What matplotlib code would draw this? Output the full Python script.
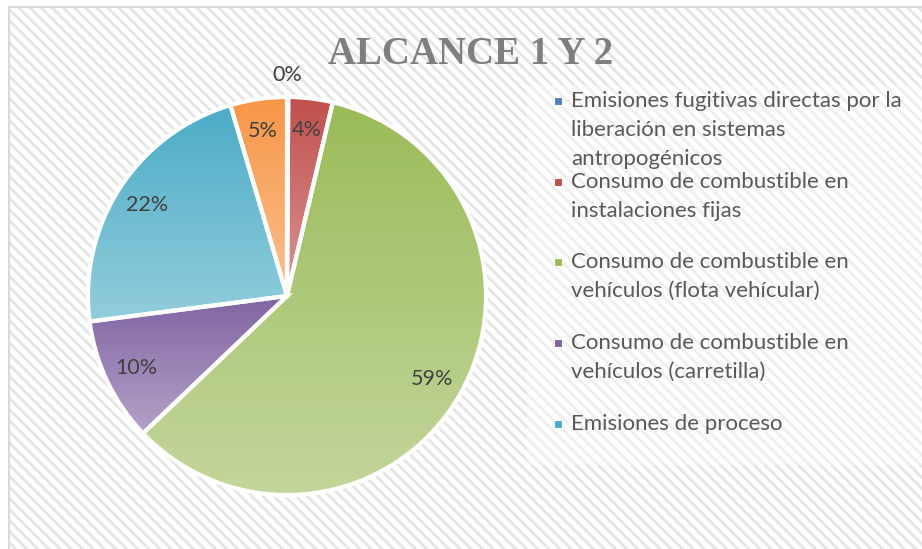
import matplotlib
matplotlib.use("Agg")
import matplotlib.pyplot as plt
import matplotlib.colors as mcolors
from matplotlib.patches import Rectangle
import numpy as np

# ─── 数据 ──────────────────────────────────────────────────────────────── #
categories = [
    "Emisiones fugitivas directas por la\nliberación en sistemas\nantropogénicos",
    "Consumo de combustible en\ninstalaciones fijas",
    "Consumo de combustible en\nvehículos (flota vehícular)",
    "Consumo de combustible en\nvehículos (carretilla)",
    "Emisiones de proceso",
    "Otros",
]
values = [0.1, 3.6, 59.3, 10.1, 22.5, 4.6]
colors = ["#4F81BD", "#C0504D", "#9BBB59", "#8064A2", "#4BACC6", "#F79646"]
title = "ALCANCE 1 Y 2"
n_legend = 5   # la leyenda original sólo muestra 5 entradas

W, H = 922, 549
plt.rcParams["hatch.linewidth"] = 2.0

fig = plt.figure(figsize=(W / 100, H / 100), dpi=100)
fig.patch.set_facecolor("white")

# ─── fondo con trama diagonal ─────────────────────────────────────────── #
fx0, fy0 = 9 / W, 7 / H
fig.add_artist(Rectangle((fx0, 0), 1 - fx0, 1 - fy0, transform=fig.transFigure,
                         facecolor="white", edgecolor="#E5E5E5", hatch="\\\\\\",
                         linewidth=0, zorder=0))
fig.add_artist(Rectangle((fx0, -0.01), 1.02 - fx0, 1.01 - fy0, transform=fig.transFigure,
                         facecolor="none", edgecolor="#D9D9D9", linewidth=1.5, zorder=1))
# zona de leyenda (trama más suave)
fig.add_artist(Rectangle((527 / W, 1 - 465 / H), 1 - 527 / W, 380 / H,
                         transform=fig.transFigure, facecolor="white", alpha=0.4,
                         linewidth=0, zorder=1))


def lighter(c, t=0.4):
    rgb = np.array(mcolors.to_rgb(c))
    return rgb + (1 - rgb) * t


# ─── pastel ───────────────────────────────────────────────────────────── #
cx, cy, r = 287, 296, 199
ax = fig.add_axes([(cx - r) / W, (H - cy - r) / H, 2 * r / W, 2 * r / H])
ax.set_xlim(-1, 1)
ax.set_ylim(-1, 1)
ax.set_aspect("equal")
ax.axis("off")

wedges, texts, autotexts = ax.pie(
    values, colors=colors, startangle=90, counterclock=False, radius=1,
    autopct=lambda p: f"{p:.0f}%", pctdistance=0.84,
    wedgeprops=dict(edgecolor="white", linewidth=3),
    textprops=dict(fontsize=15.5, color="#404040", family="Lato"),
)

for w, c in zip(wedges, colors):
    bb = w.get_path().get_extents()
    top = np.array(mcolors.to_rgb(c))
    bot = lighter(c)
    grad = np.linspace(0, 1, 256)[:, None]
    img = top[None, None, :] * (1 - grad[..., None]) + bot[None, None, :] * grad[..., None]
    im = ax.imshow(img, extent=(bb.x0, bb.x1, bb.y0, bb.y1), origin="upper",
                   aspect="auto", zorder=1, interpolation="bilinear")
    im.set_clip_path(w)
    w.set_facecolor("none")
    w.set_zorder(2)

# la etiqueta del 0% va fuera del pastel
ang = np.deg2rad((wedges[0].theta1 + wedges[0].theta2) / 2)
autotexts[0].set_position((1.11 * np.cos(ang), 1.11 * np.sin(ang)))
for t in autotexts:
    t.set_zorder(3)

ax.set_xlim(-1, 1)
ax.set_ylim(-1, 1)

# ─── título ───────────────────────────────────────────────────────────── #
fig.text(471 / W, 1 - 54 / H, title, ha="center", va="center",
         fontsize=28, fontweight="bold", family="Liberation Serif", color="#7F7F7F")

# ─── leyenda manual ───────────────────────────────────────────────────── #
entry_tops = [101, 182, 262, 343, 424]   # centro de la primera línea (px)
line_h = 29
for i in range(n_legend):
    y0 = entry_tops[i]
    sq = 8
    fig.add_artist(Rectangle((554 / W, 1 - (y0 + sq / 2) / H), sq / W, sq / H,
                             transform=fig.transFigure, facecolor=colors[i],
                             edgecolor="white", linewidth=0.8, zorder=3))
    for j, line in enumerate(categories[i].split("\n")):
        fig.text(571 / W, 1 - (y0 + j * line_h) / H, line, ha="left", va="center",
                 fontsize=16, family="Lato", color="#595959", zorder=3)

fig.savefig("out.png", dpi=100)
